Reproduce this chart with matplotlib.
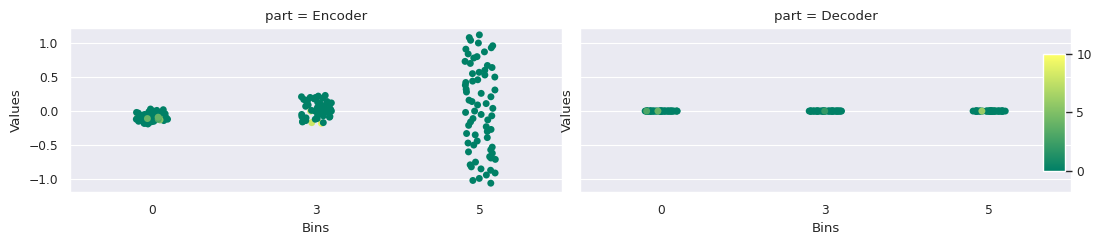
import numpy as np
import pandas as pd
import matplotlib
matplotlib.use("Agg")
import matplotlib.pyplot as plt
import seaborn as sns

# values
enc_b0 = [-0.04, -0.12, -0.10, -0.13, -0.11, -0.12, -0.09, -0.14, -0.10, -0.12,
          -0.02, 0.03, 0.01, -0.05, -0.08, -0.10, -0.12, -0.15, -0.18, -0.16,
          -0.09, -0.11, -0.13, -0.07, 0.00, -0.03, -0.06, -0.14, -0.17, -0.10,
          -0.12, -0.08, -0.04, 0.02, -0.19, -0.15, -0.11, -0.09, -0.13, -0.06,
          -0.01, -0.16, -0.12, -0.10, -0.08, -0.14, -0.05, -0.18, -0.11, -0.07,
          -0.13, -0.09, -0.15, -0.03, -0.12, -0.11, -0.10, -0.13, -0.12, -0.09]
enc_b0_hue = [8, 4, 3, 5, 3, 4, 2, 3, 5, 4,
              0, 0, 0, 0, 0, 3, 0, 0, 0, 0,
              0, 2, 0, 0, 0, 0, 0, 0, 0, 0,
              0, 0, 0, 0, 0, 0, 0, 0, 0, 0,
              0, 0, 0, 0, 0, 0, 0, 0, 0, 0,
              0, 0, 0, 0, 0, 4, 3, 5, 3, 4]
enc_b3 = [-0.17, -0.18, 0.00, 0.22, 0.20, 0.18, 0.21, 0.15, 0.12, 0.10,
          0.08, 0.05, 0.03, 0.00, -0.02, -0.05, -0.08, -0.10, -0.13, -0.15,
          0.17, 0.13, 0.07, 0.02, -0.04, -0.11, 0.19, 0.09, 0.04, -0.01,
          -0.07, -0.12, 0.14, 0.06, -0.03, -0.09, 0.11, 0.01, -0.06, 0.16,
          -0.14, -0.17, 0.23, 0.00, 0.12, 0.05, -0.16, 0.20, -0.08, 0.03]
enc_b3_hue = [8, 9, 8, 0, 0, 0, 0, 0, 0, 0,
              0, 0, 0, 0, 0, 0, 0, 0, 0, 0,
              0, 0, 0, 0, 0, 0, 0, 0, 0, 0,
              0, 0, 0, 0, 0, 0, 0, 0, 0, 0,
              0, 0, 0, 0, 0, 0, 0, 0, 0, 0]
enc_b5 = [1.12, 1.00, 1.04, 1.08, 0.91, 0.96, 0.87, 0.84, 0.80, 0.73,
          0.70, 0.67, 0.60, 0.57, 0.55, 0.53, 0.50, 0.46, 0.42, 0.38,
          0.32, 0.31, 0.26, 0.21, 0.16, 0.14, 0.11, 0.04, 0.00, -0.02,
          -0.07, -0.11, -0.13, -0.21, -0.23, -0.27, -0.30, -0.35, -0.39, -0.47,
          -0.50, -0.44, -0.53, -0.60, -0.62, -0.67, -0.71, -0.75, -0.79, -0.82,
          -0.87, -0.91, -0.94, -0.99, -1.02, -1.06, 0.64, 0.28, -0.16, -0.57,
          0.93, 0.78, 0.44, 0.09, -0.05, -0.33, -0.69, -0.85]
enc_b5_hue = [0] * len(enc_b5)

dec_b0 = [0.0] * 50
dec_b0_hue = [3, 2, 0, 0, 0, 2, 0, 0, 0, 3] + [0] * 38 + [4, 3]
dec_b3 = [0.0] * 50
dec_b3_hue = [3, 2, 0, 2, 0, 0, 3, 0, 0, 0] + [0] * 39 + [2]
dec_b5 = [0.0] * 50
dec_b5_hue = [7, 2, 0, 0, 5, 0, 0, 2, 0, 0] + [0] * 39 + [6]

bins = [0, 3, 5]
parts = ["Encoder", "Decoder"]


def make_df(vals, hues):
    rows = []
    for b, v, h in zip(bins, vals, hues):
        for vv, hh in zip(v, h):
            rows.append((b, vv, hh))
    return pd.DataFrame(rows, columns=["Bins", "Values", "hue"])


frames = {
    "Encoder": make_df([enc_b0, enc_b3, enc_b5], [enc_b0_hue, enc_b3_hue, enc_b5_hue]),
    "Decoder": make_df([dec_b0, dec_b3, dec_b5], [dec_b0_hue, dec_b3_hue, dec_b5_hue]),
}

sns.set_theme(style="darkgrid", context="paper")
np.random.seed(3)

fig, axes = plt.subplots(1, 2, figsize=(11, 2.44), dpi=100, sharey=True)
fig.subplots_adjust(left=0.0636, right=0.974, bottom=0.213, top=0.885, wspace=0.036)

for ax, part in zip(axes, parts):
    sns.stripplot(data=frames[part], x="Bins", y="Values", hue="hue",
                  palette="summer", hue_norm=(0, 10), legend=False, ax=ax)
    ax.set_title("part = " + part)
    ax.set_xlabel("Bins")
    ax.set_ylabel("Values")
    ax.yaxis.label.set_visible(True)

axes[0].set_ylim(-1.19, 1.22)
axes[0].set_yticks([-1.0, -0.5, 0.0, 0.5, 1.0])

cax = fig.add_axes([0.948, 0.30, 0.02, 0.478])
sm = plt.cm.ScalarMappable(norm=plt.Normalize(0, 10), cmap="summer")
cb = fig.colorbar(sm, cax=cax)
cb.set_ticks([0, 5, 10])

fig.savefig("out.png", dpi=100)
